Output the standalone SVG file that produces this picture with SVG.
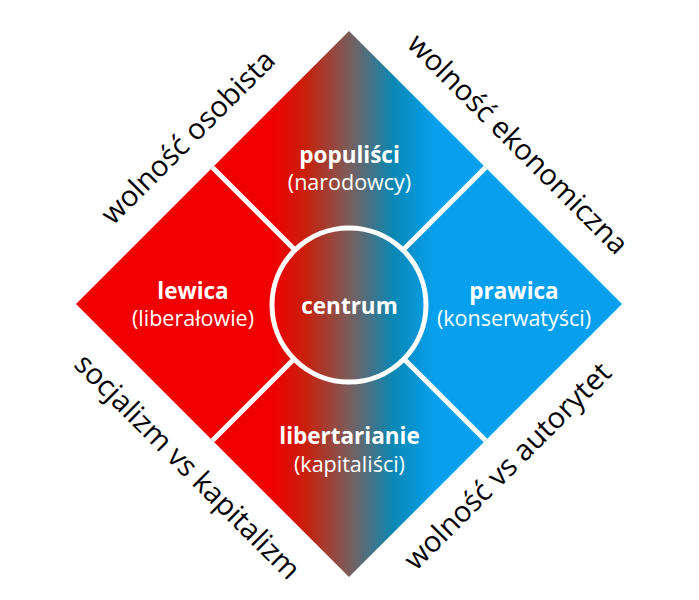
<svg xmlns="http://www.w3.org/2000/svg" width="699" height="600" viewBox="0 0 699 600">
<style>
.name{font-family:"Open Sans",sans-serif;font-weight:bold;font-size:22.5px;fill:#fff;text-anchor:middle}
.sub{font-family:"Open Sans",sans-serif;font-size:21.5px;fill:#fff;text-anchor:middle}
.axis{font-family:"Open Sans",sans-serif;font-size:29px;fill:#000;text-anchor:middle}
.div{stroke:#fff;stroke-width:5;fill:none}
</style>
<defs>
<linearGradient id="g" gradientUnits="userSpaceOnUse" x1="76" y1="0" x2="623" y2="0">
<stop offset="0.36" stop-color="#f00000"/>
<stop offset="0.42" stop-color="#c8200c"/>
<stop offset="0.5" stop-color="#7a5e5c"/>
<stop offset="0.58" stop-color="#0a88b4"/>
<stop offset="0.655" stop-color="#06a0ee"/>
</linearGradient>
</defs>
<rect width="699" height="600" fill="#fff"/>
<g id="diamond">
<polygon points="349,31 622,304 349,577 76,304" fill="url(#g)"/>
</g>
<g id="connectors">
<line class="div" x1="212.5" y1="167.5" x2="294" y2="249"/>
<line class="div" x1="485.5" y1="167.5" x2="404" y2="249"/>
<line class="div" x1="212.5" y1="440.5" x2="294" y2="359"/>
<line class="div" x1="485.5" y1="440.5" x2="404" y2="359"/>
</g>
<g id="centrum">
<circle cx="349" cy="305" r="77" class="div"/>
<text class="name" x="349.5" y="314">centrum</text>
</g>
<g id="populisci">
<text class="name" x="349.5" y="163">populiści</text>
<text class="sub" x="349.5" y="190">(narodowcy)</text>
</g>
<g id="lewica">
<text class="name" x="193" y="299">lewica</text>
<text class="sub" x="193" y="326">(liberałowie)</text>
</g>
<g id="prawica">
<text class="name" x="514" y="299">prawica</text>
<text class="sub" x="514" y="326">(konserwatyści)</text>
</g>
<g id="libertarianie">
<text class="name" x="349.5" y="444">libertarianie</text>
<text class="sub" x="349.5" y="472">(kapitaliści)</text>
</g>
<g id="axis-labels">
<text class="axis" transform="translate(195,144) rotate(-45)">wolność osobista</text>
<text class="axis" transform="translate(511,151) rotate(45)">wolność ekonomiczna</text>
<text class="axis" transform="translate(180.5,473.5) rotate(45)">socjalizm vs kapitalizm</text>
<text class="axis" transform="translate(514.5,473) rotate(-45)">wolność vs autorytet</text>
</g>
</svg>
